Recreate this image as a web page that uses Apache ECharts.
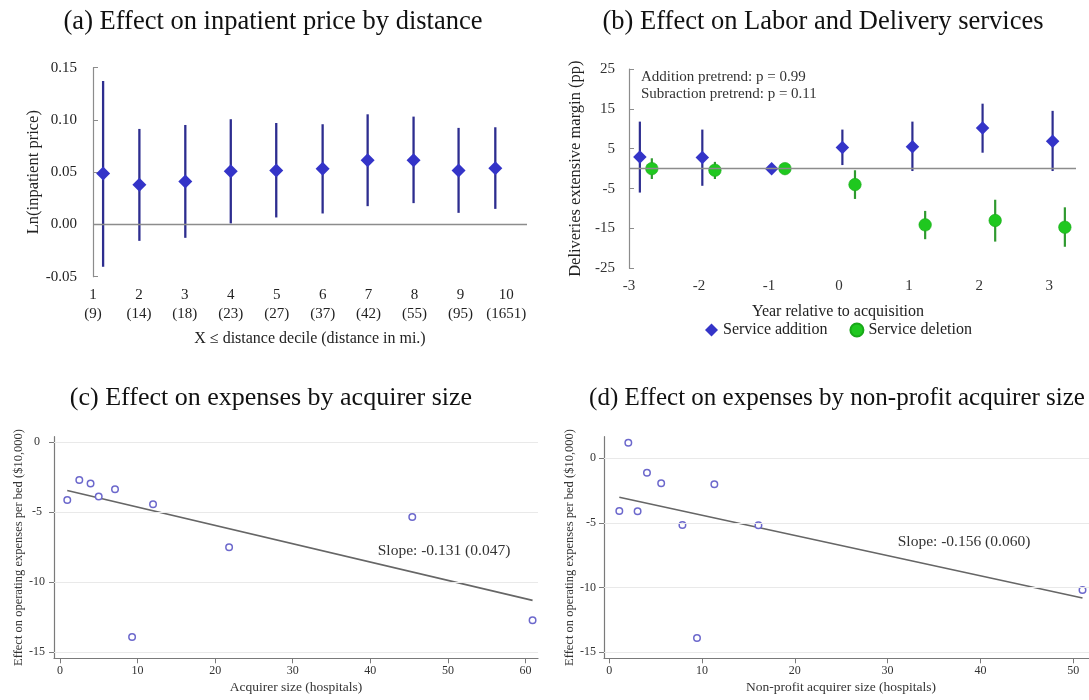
<!DOCTYPE html>
<html>
<head>
<meta charset="utf-8">
<script src="https://cdn.jsdelivr.net/npm/echarts@6/dist/echarts.min.js"></script>
<style>
  html, body { margin: 0; padding: 0; background: #fff; }
  #chart { width: 1089px; height: 700px; }
</style>
</head>
<body>
<div id="chart"></div>
<script>
const SERIF = '"Liberation Serif", "Times New Roman", serif';

// ---- (a) Inpatient price effect by distance decile ----
const decileTicks = [1, 2, 3, 4, 5, 6, 7, 8, 9, 10];
const decileMiles = ['9', '14', '18', '23', '27', '37', '42', '55', '95', '1651'];
const decilePos = [1.22, 2.01, 3.01, 4.0, 4.99, 6.0, 6.98, 7.98, 8.96, 9.76];
const priceEst = [0.0488, 0.0379, 0.0411, 0.0510, 0.0516, 0.0532, 0.0615, 0.0615, 0.0516, 0.0538];
const priceLo = [-0.0405, -0.0157, -0.0128, 0.0010, 0.0067, 0.0105, 0.0175, 0.0204, 0.0111, 0.0149];
const priceHi = [0.1373, 0.0914, 0.0952, 0.1007, 0.0971, 0.0959, 0.1054, 0.1032, 0.0924, 0.0930];
const priceTicks = [-0.05, 0, 0.05, 0.10, 0.15];

// ---- (b) Labor and Delivery service additions / deletions ----
const yearTicks = [-3, -2, -1, 0, 1, 2, 3];
const addPos = [-2.845, -1.953, -0.963, 0.047, 1.047, 2.049, 3.049];
const addEst = [2.9, 2.8, 0, 5.3, 5.5, 10.2, 6.9];
const addLo = [-6.0, -4.3, null, 0.9, -0.6, 4.0, -0.6];
const addHi = [11.8, 9.8, null, 9.8, 11.8, 16.3, 14.5];
const delPos = [-2.674, -1.773, -0.773, 0.227, 1.229, 2.229, 3.224];
const delEst = [0, -0.4, 0, -4.0, -14.1, -13.0, -14.7];
const delLo = [-2.6, -2.6, null, -7.6, -17.7, -18.3, -19.6];
const delHi = [2.6, 1.7, null, -0.4, -10.6, -7.8, -9.7];
const marginTicks = [-25, -15, -5, 5, 15, 25];

// ---- (c) Expense effect by acquirer size ----
const sizeAll = [0.95, 2.5, 3.95, 5.0, 7.1, 12.0, 9.3, 21.8, 45.4, 60.9];
const effectAll = [-4.12, -2.69, -2.95, -3.88, -3.36, -4.43, -13.9, -7.5, -5.34, -12.71];
const slopeAll = -0.131;
const slopeAllSE = 0.047;
const fitStartAll = -3.44;
const sizeTicksAll = [0, 10, 20, 30, 40, 50, 60];

// ---- (d) Expense effect by non-profit acquirer size ----
const sizeNP = [1.09, 2.06, 3.06, 4.07, 5.6, 7.89, 9.46, 11.33, 16.08, 51.0];
const effectNP = [-4.07, 1.21, -4.1, -1.11, -1.93, -5.16, -13.9, -2.01, -5.18, -10.19];
const slopeNP = -0.156;
const slopeNPSE = 0.060;
const fitStartNP = -3.02;
const sizeTicksNP = [0, 10, 20, 30, 40, 50];

const effectTicks = [-15, -10, -5, 0];

// colours
const NAVY = '#2d2d8f', BLUE = '#3434c8', GREEN = '#1fc81f', GREEN_BAR = '#2f9a2f';
const AXIS = '#8c8c8c', TEXT = '#222', LOWER_AXIS = '#7a7a7a';

function errorBars(name, idx, pos, lo, hi, color, width) {
  const data = [];
  pos.forEach((x, i) => { if (lo[i] != null) data.push([x, lo[i], hi[i]]); });
  return {
    type: 'custom', name, xAxisIndex: idx, yAxisIndex: idx, silent: true, z: 2,
    data, encode: { x: 0, y: [1, 2] },
    renderItem(params, api) {
      const a = api.coord([api.value(0), api.value(1)]);
      const b = api.coord([api.value(0), api.value(2)]);
      return { type: 'line', shape: { x1: a[0], y1: a[1], x2: b[0], y2: b[1] },
               style: { stroke: color, lineWidth: width } };
    }
  };
}

function pairs(xs, ys) { return xs.map((x, i) => [x, ys[i]]); }

function fitLine(xs, yStart, slope) {
  const x0 = Math.min(...xs), x1 = Math.max(...xs);
  return [[x0, yStart], [x1, yStart + slope * (x1 - x0)]];
}

function hLines(values, color, width) {
  return { silent: true, symbol: 'none', label: { show: false },
           lineStyle: { color, width, type: 'solid' },
           emphasis: { disabled: true },
           data: values.map(v => ({ yAxis: v })) };
}

const upperLabel = (extra) => Object.assign({ fontFamily: SERIF, fontSize: 15, color: TEXT }, extra);
const lowerLabel = (extra) => Object.assign({ fontFamily: SERIF, fontSize: 12, color: '#333' }, extra);
const lowerLine = { show: true, onZero: false, lineStyle: { color: LOWER_AXIS, width: 1.2 } };
const upperLine = { show: true, onZero: false, lineStyle: { color: AXIS, width: 1.2 } };

const option = {
  animation: false,
  backgroundColor: '#fff',
  grid: [
    { left: 93, top: 67.7, width: 434, height: 209 },
    { left: 629, top: 69, width: 447, height: 199.3 },
    { left: 54, top: 436.7, width: 484, height: 221.6 },
    { left: 604, top: 436.7, width: 485, height: 221.6 }
  ],
  xAxis: [
    {
      gridIndex: 0, type: 'value', min: 1, max: 10.45,
      axisLine: { show: false, onZero: false }, axisTick: { show: false }, splitLine: { show: false },
      axisLabel: upperLabel({ customValues: decileTicks, lineHeight: 19, margin: 9,
        formatter: v => v + '\n(' + decileMiles[Math.round(v) - 1] + ')' }),
      name: 'X ≤ distance decile (distance in mi.)', nameLocation: 'middle', nameGap: 54,
      nameTextStyle: { fontFamily: SERIF, fontSize: 16, color: TEXT }
    },
    {
      gridIndex: 1, type: 'value', min: -3, max: 3.383,
      axisLine: { show: false, onZero: false }, axisTick: { show: false }, splitLine: { show: false },
      axisLabel: upperLabel({ customValues: yearTicks, margin: 10, color: '#333' }),
      name: 'Year relative to acquisition', nameLocation: 'middle', nameGap: 35,
      nameTextStyle: { fontFamily: SERIF, fontSize: 16, color: TEXT, padding: [0, 29, 0, 0] }
    },
    {
      gridIndex: 2, type: 'value', min: -0.76, max: 61.6,
      axisLine: lowerLine,
      axisTick: { show: true, length: 5, customValues: sizeTicksAll, lineStyle: { color: LOWER_AXIS } },
      splitLine: { show: false },
      axisLabel: lowerLabel({ customValues: sizeTicksAll, margin: 7 }),
      name: 'Acquirer size (hospitals)', nameLocation: 'middle', nameGap: 22,
      nameTextStyle: { fontFamily: SERIF, fontSize: 13.5, color: '#333' }
    },
    {
      gridIndex: 3, type: 'value', min: -0.56, max: 51.7,
      axisLine: lowerLine,
      axisTick: { show: true, length: 5, customValues: sizeTicksNP, lineStyle: { color: LOWER_AXIS } },
      splitLine: { show: false },
      axisLabel: lowerLabel({ customValues: sizeTicksNP, margin: 7 }),
      name: 'Non-profit acquirer size (hospitals)', nameLocation: 'middle', nameGap: 22,
      nameTextStyle: { fontFamily: SERIF, fontSize: 13.5, color: '#333', padding: [0, 11, 0, 0] }
    }
  ],
  yAxis: [
    {
      gridIndex: 0, type: 'value', min: -0.05, max: 0.15,
      axisLine: upperLine,
      axisTick: { show: true, inside: true, length: 5, customValues: priceTicks, lineStyle: { color: AXIS } },
      splitLine: { show: false },
      axisLabel: upperLabel({ customValues: priceTicks, margin: 16, formatter: v => v.toFixed(2) }),
      name: 'Ln(inpatient price)', nameLocation: 'middle', nameRotate: 90, nameGap: 51,
      nameTextStyle: { fontFamily: SERIF, fontSize: 16.5, color: TEXT }
    },
    {
      gridIndex: 1, type: 'value', min: -25, max: 25,
      axisLine: upperLine,
      axisTick: { show: true, inside: true, length: 5, customValues: marginTicks, lineStyle: { color: AXIS } },
      splitLine: { show: false },
      axisLabel: upperLabel({ customValues: marginTicks, margin: 14, color: '#333' }),
      name: 'Deliveries extensive margin (pp)', nameLocation: 'middle', nameRotate: 90, nameGap: 45,
      nameTextStyle: { fontFamily: SERIF, fontSize: 16.5, color: TEXT }
    },
    {
      gridIndex: 2, type: 'value', min: -15.43, max: 0.4,
      axisLine: lowerLine,
      axisTick: { show: true, length: 5, customValues: effectTicks, lineStyle: { color: LOWER_AXIS } },
      splitLine: { show: false },
      axisLabel: lowerLabel({ customValues: effectTicks, margin: 17, align: 'center' }),
      name: 'Effect on operating expenses per bed ($10,000)', nameLocation: 'middle', nameRotate: 90, nameGap: 29,
      nameTextStyle: { fontFamily: SERIF, fontSize: 12.5, color: '#333' }
    },
    {
      gridIndex: 3, type: 'value', min: -15.47, max: 1.67,
      axisLine: lowerLine,
      axisTick: { show: true, length: 5, customValues: effectTicks, lineStyle: { color: LOWER_AXIS } },
      splitLine: { show: false },
      axisLabel: lowerLabel({ customValues: effectTicks, margin: 8 }),
      name: 'Effect on operating expenses per bed ($10,000)', nameLocation: 'middle', nameRotate: 90, nameGap: 27,
      nameTextStyle: { fontFamily: SERIF, fontSize: 12.5, color: '#333' }
    }
  ],
  legend: {
    data: [{ name: 'Service addition', icon: 'diamond' }, { name: 'Service deletion', icon: 'circle' }],
    left: 705, top: 322, itemWidth: 13, itemHeight: 13, itemGap: 22, padding: 0,
    textStyle: { fontFamily: SERIF, fontSize: 16, color: TEXT },
    selectedMode: false
  },
  graphic: [
    { type: 'text', x: 273, y: 21.7, style: { text: '(a) Effect on inpatient price by distance',
      font: '26.5px ' + SERIF, fill: '#111', align: 'center', verticalAlign: 'middle' } },
    { type: 'text', x: 823, y: 21.7, style: { text: '(b) Effect on Labor and Delivery services',
      font: '26.5px ' + SERIF, fill: '#111', align: 'center', verticalAlign: 'middle' } },
    { type: 'text', x: 271, y: 398, style: { text: '(c) Effect on expenses by acquirer size',
      font: '26px ' + SERIF, fill: '#111', align: 'center', verticalAlign: 'middle' } },
    { type: 'text', x: 837, y: 398, style: { text: '(d) Effect on expenses by non-profit acquirer size',
      font: '25px ' + SERIF, fill: '#111', align: 'center', verticalAlign: 'middle' } },
    { type: 'text', x: 641, y: 68, style: { text: 'Addition pretrend: p = 0.99\nSubraction pretrend: p = 0.11',
      font: '15px ' + SERIF, lineHeight: 17.6, fill: '#333' } },
    { type: 'text', x: 444, y: 551, style: { text: 'Slope: ' + slopeAll.toFixed(3) + ' (' + slopeAllSE.toFixed(3) + ')',
      font: '15.5px ' + SERIF, fill: '#333', align: 'center', verticalAlign: 'middle' } },
    { type: 'text', x: 964, y: 542, style: { text: 'Slope: ' + slopeNP.toFixed(3) + ' (' + slopeNPSE.toFixed(3) + ')',
      font: '15.5px ' + SERIF, fill: '#333', align: 'center', verticalAlign: 'middle' } }
  ],
  series: [
    // (a)
    errorBars('price CI', 0, decilePos, priceLo, priceHi, NAVY, 2.3),
    {
      type: 'scatter', name: 'price', xAxisIndex: 0, yAxisIndex: 0, z: 3,
      symbol: 'diamond', symbolSize: 14, itemStyle: { color: BLUE, opacity: 1 },
      data: pairs(decilePos, priceEst),
      markLine: hLines([0], AXIS, 1.3)
    },
    // (b)
    errorBars('addition CI', 1, addPos, addLo, addHi, NAVY, 2.2),
    errorBars('deletion CI', 1, delPos, delLo, delHi, GREEN_BAR, 2.2),
    {
      type: 'scatter', name: 'Service addition', xAxisIndex: 1, yAxisIndex: 1, z: 3,
      symbol: 'diamond', symbolSize: 13.5, itemStyle: { color: BLUE, opacity: 1 },
      data: pairs(addPos, addEst),
      markLine: hLines([0], AXIS, 1.3)
    },
    {
      type: 'scatter', name: 'Service deletion', xAxisIndex: 1, yAxisIndex: 1, z: 3,
      symbol: 'circle', symbolSize: 12.5, itemStyle: { color: GREEN, borderColor: '#19a819', borderWidth: 0.6, opacity: 1 },
      data: pairs(delPos, delEst)
    },
    // (c)
    {
      type: 'scatter', name: 'all acquirers', xAxisIndex: 2, yAxisIndex: 2, z: 3,
      symbol: 'circle', symbolSize: 6.5,
      itemStyle: { color: '#fff', borderColor: '#6c68cc', borderWidth: 1.5, opacity: 1 },
      data: pairs(sizeAll, effectAll),
      markLine: hLines(effectTicks, '#e9e9e9', 1)
    },
    {
      type: 'line', name: 'fit all', xAxisIndex: 2, yAxisIndex: 2, z: 2,
      symbol: 'none', lineStyle: { color: '#666', width: 1.6 },
      data: fitLine(sizeAll, fitStartAll, slopeAll)
    },
    // (d)
    {
      type: 'scatter', name: 'non-profit acquirers', xAxisIndex: 3, yAxisIndex: 3, z: 3,
      symbol: 'circle', symbolSize: 6.5,
      itemStyle: { color: '#fff', borderColor: '#6c68cc', borderWidth: 1.5, opacity: 1 },
      data: pairs(sizeNP, effectNP),
      markLine: hLines(effectTicks, '#e9e9e9', 1)
    },
    {
      type: 'line', name: 'fit non-profit', xAxisIndex: 3, yAxisIndex: 3, z: 2,
      symbol: 'none', lineStyle: { color: '#666', width: 1.6 },
      data: fitLine(sizeNP, fitStartNP, slopeNP)
    }
  ]
};

const chart = echarts.init(document.getElementById('chart'), null, { renderer: 'canvas' });
chart.setOption(option);
</script>
</body>
</html>
